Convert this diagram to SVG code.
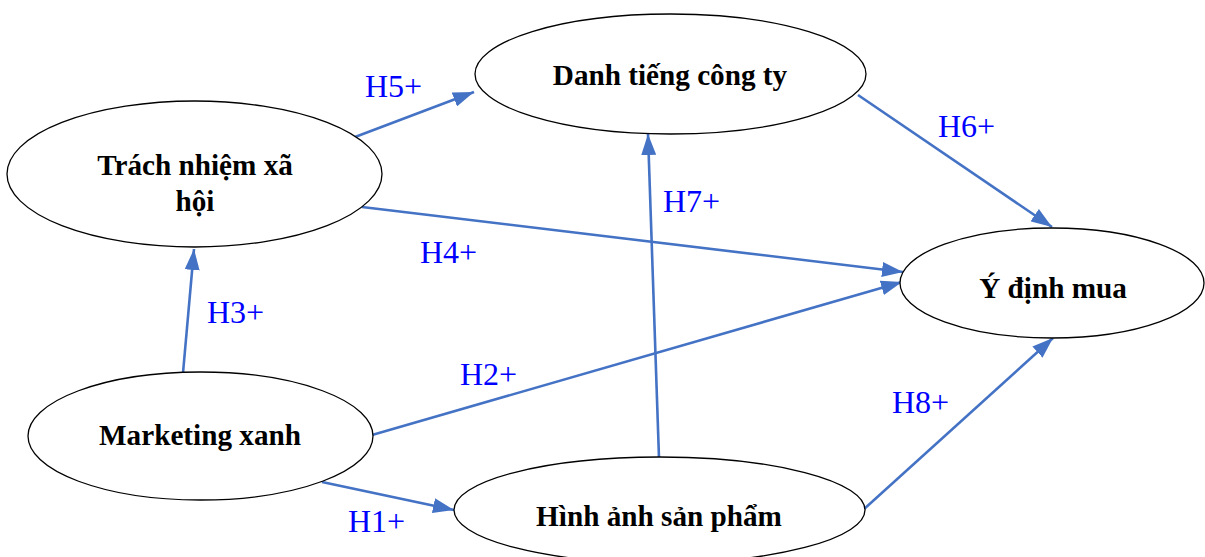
<svg xmlns="http://www.w3.org/2000/svg" width="1205" height="557" viewBox="0 0 1205 557">
  <style>
    .node ellipse { fill: #ffffff; stroke: #000000; stroke-width: 1.3; }
    .node text { font-family: "Liberation Serif", "Times New Roman", serif; font-weight: bold; font-size: 29.2px; fill: #000000; text-anchor: middle; }
    .edge { fill: none; stroke: #4472C4; stroke-width: 2.6; marker-end: url(#arrow); }
    .label { font-family: "Liberation Serif", "Times New Roman", serif; font-size: 32px; fill: #0000FF; }
  </style>
  <defs>
    <marker id="arrow" markerUnits="userSpaceOnUse" markerWidth="21" markerHeight="15" refX="21" refY="7.5" orient="auto">
      <path d="M0,0 L21,7.5 L0,15 z" fill="#4472C4"/>
    </marker>
  </defs>
  <rect width="1205" height="557" fill="#ffffff"/>

  <!-- connectors -->
  <g id="connectors">
    <path class="edge" d="M183,373 L194,249"/>
    <path class="edge" d="M355,137 L474,92"/>
    <path class="edge" d="M362,207 L903,272"/>
    <path class="edge" d="M372,435 L902,282"/>
    <path class="edge" d="M858,95 L1052,227"/>
    <path class="edge" d="M659,458 L648,134"/>
    <path class="edge" d="M863,510 L1053,338"/>
    <path class="edge" d="M322,482 L454,510"/>
  </g>

  <!-- nodes -->
  <g id="node-danh-tieng" class="node">
    <ellipse cx="670.5" cy="74" rx="195.5" ry="60"/>
    <text x="670" y="85">Danh tiếng công ty</text>
  </g>
  <g id="node-trach-nhiem" class="node">
    <ellipse cx="194.5" cy="174" rx="187.5" ry="73"/>
    <text x="195" y="175">Trách nhiệm xã</text>
    <text x="195" y="211">hội</text>
  </g>
  <g id="node-y-dinh-mua" class="node">
    <ellipse cx="1052" cy="283" rx="152" ry="55"/>
    <text x="1053" y="298">Ý định mua</text>
  </g>
  <g id="node-marketing-xanh" class="node">
    <ellipse cx="200.5" cy="436" rx="172.5" ry="64"/>
    <text x="200" y="445">Marketing xanh</text>
  </g>
  <g id="node-hinh-anh" class="node">
    <ellipse cx="659.5" cy="510" rx="205.5" ry="53"/>
    <text x="659" y="526">Hình ảnh sản phẩm</text>
  </g>

  <!-- hypothesis labels -->
  <g id="labels">
    <text class="label" x="365" y="97">H5+</text>
    <text class="label" x="938" y="137">H6+</text>
    <text class="label" x="663" y="212">H7+</text>
    <text class="label" x="420" y="263">H4+</text>
    <text class="label" x="207" y="323">H3+</text>
    <text class="label" x="460" y="385">H2+</text>
    <text class="label" x="892" y="413">H8+</text>
    <text class="label" x="348" y="532">H1+</text>
  </g>
</svg>
